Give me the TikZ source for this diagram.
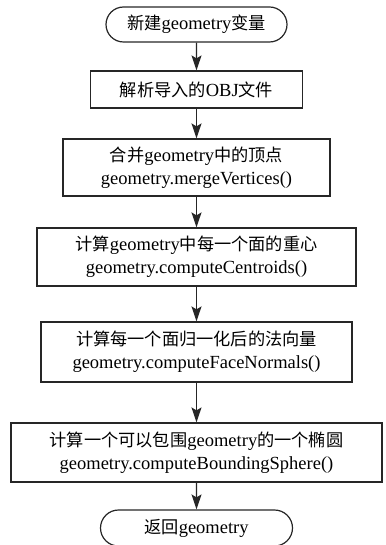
\documentclass[tikz,border=0pt]{standalone}
\usepackage{fontspec}
\setmainfont{Liberation Serif}
\newfontfamily\cjk{Noto Sans CJK SC}[Scale=0.93]
\usetikzlibrary{arrows.meta,shapes.misc}
\begin{document}
\begin{tikzpicture}[x=1pt,y=-1pt,
  every node/.style={font=\fontsize{18.5}{23}\selectfont, align=center, inner sep=0pt, line width=1.2pt, draw=black!85},
  term/.style={rounded rectangle},
  boxnode/.style={rectangle},
  conn/.style={line width=1.2pt, draw=black!85, -{Stealth[length=15pt,width=10pt,inset=3pt]}}]
\useasboundingbox (0,0) rectangle (385,545);
\node[term, minimum width=181pt, minimum height=35pt] (s) at (196.5,24.5) {{\cjk 新建}geometry{\cjk 变量}};
\node[boxnode, minimum width=212pt, minimum height=37pt] (b2) at (196.5,89.5) {{\cjk 解析导入的}OBJ{\cjk 文件}};
\node[boxnode, minimum width=267pt, minimum height=57pt] (b3) at (196.5,167.5) {{\cjk 合并}geometry{\cjk 中的顶点}\\geometry.mergeVertices()};
\node[boxnode, minimum width=319pt, minimum height=58pt] (b4) at (196.5,257) {{\cjk 计算}geometry{\cjk 中每一个面的重心}\\geometry.computeCentroids()};
\node[boxnode, minimum width=311pt, minimum height=60pt] (b5) at (196.5,352) {{\cjk 计算每一个面归一化后的法向量}\\geometry.computeFaceNormals()};
\node[boxnode, minimum width=371pt, minimum height=59pt] (b6) at (196.5,452.5) {{\cjk 计算一个可以包围}geometry{\cjk 的一个椭圆}\\geometry.computeBoundingSphere()};
\node[term, minimum width=192pt, minimum height=36pt] (e) at (196.5,528) {{\cjk 返回}geometry};
\draw[conn] (s) -- (b2);
\draw[conn] (b2) -- (b3);
\draw[conn] (b3) -- (b4);
\draw[conn] (b4) -- (b5);
\draw[conn] (b5) -- (b6);
\draw[conn] (b6) -- (e);
\end{tikzpicture}
\end{document}
